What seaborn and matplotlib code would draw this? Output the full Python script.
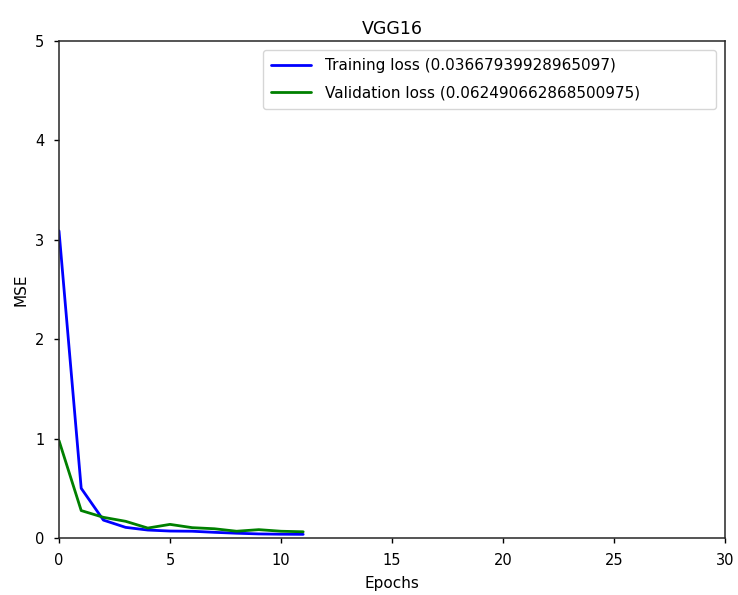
import numpy as np
import pandas as pd
import seaborn as sns
import matplotlib
matplotlib.use("Agg")
import matplotlib.pyplot as plt

epochs = list(range(12))
train_loss = [3.09, 0.50, 0.18, 0.107, 0.08, 0.07, 0.068, 0.057, 0.048, 0.041, 0.038, 0.03667939928965097]
val_loss = [0.98, 0.276, 0.208, 0.168, 0.10, 0.137, 0.104, 0.093, 0.068, 0.084, 0.068, 0.062490662868500975]
train_label = "Training loss (0.03667939928965097)"
val_label = "Validation loss (0.062490662868500975)"

sns.set_style("ticks")
plt.rcParams['font.family'] = ['DejaVu Sans']
plt.rcParams['text.color'] = 'black'
plt.rcParams['axes.labelcolor'] = 'black'

df = pd.DataFrame({
    "Epochs": epochs * 2,
    "MSE": train_loss + val_loss,
    "series": [train_label] * len(epochs) + [val_label] * len(epochs),
})

fig = plt.figure(figsize=(7.38, 5.95), dpi=100)
ax = fig.add_axes([59/738, 1-538/595, (725-59)/738, (538-41)/595])
sns.lineplot(data=df, x="Epochs", y="MSE", hue="series",
             palette={train_label: "blue", val_label: "green"},
             linewidth=2, ax=ax)
ax.set_xlim(0, 30)
ax.set_ylim(0, 5)
ax.set_title("VGG16", fontsize=12.5, color="black", pad=5)
ax.set_xlabel("Epochs", fontsize=11, labelpad=6)
ax.set_ylabel("MSE", fontsize=11, labelpad=5)
for s in ax.spines.values():
    s.set_visible(True)
    s.set_color("#262626")
    s.set_linewidth(1.1)
ax.tick_params(colors="black", labelsize=10.5, length=3.5, width=1, pad=7)
x0 = (263 - 59) / 666
y1 = 1 - (50 - 41) / 497
y0 = 1 - (110 - 41) / 497
w = (716 - 263) / 666
leg = ax.legend(loc="upper left", bbox_to_anchor=(x0, y0, w, y1 - y0), mode="expand",
                borderaxespad=0, fontsize=11, frameon=True, handlelength=2.6,
                handletextpad=0.9, labelspacing=0.8, borderpad=0.55)
fig.savefig("out.png", dpi=100)
